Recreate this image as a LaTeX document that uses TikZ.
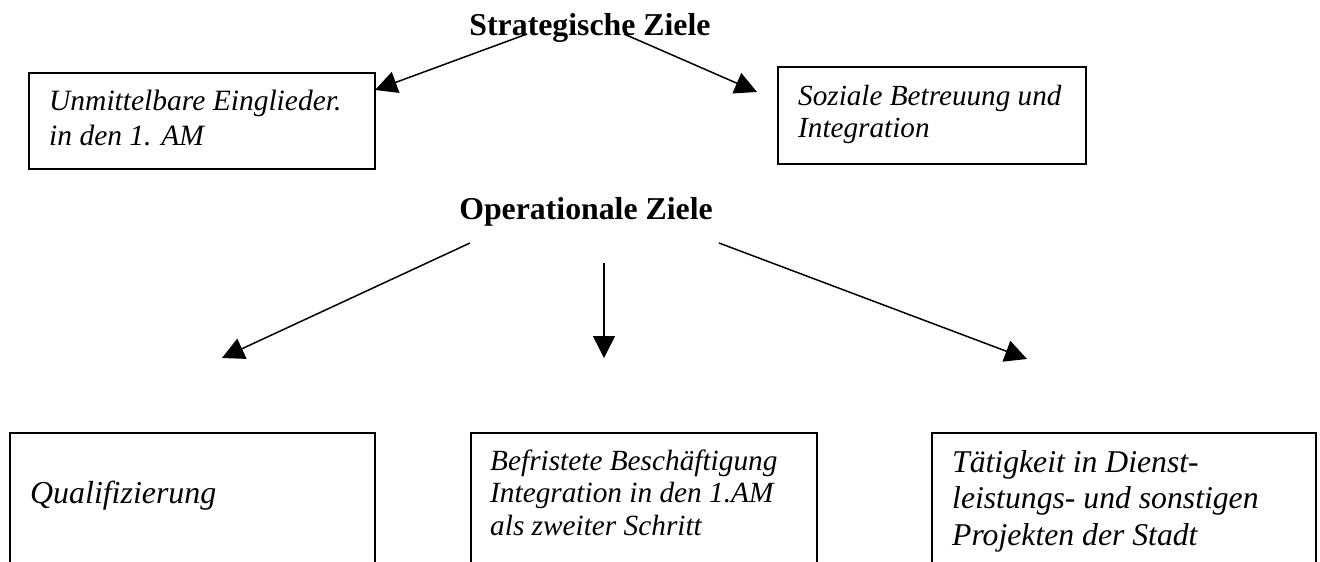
\documentclass[tikz,border=0pt]{standalone}
\usepackage{fontspec}
\setmainfont{Liberation Serif}
\usetikzlibrary{arrows.meta}
\tikzset{
  box/.style={draw, line width=1.8pt, inner sep=0pt, anchor=north west},
  txt/.style={inner sep=0pt, anchor=base west},
  head/.style={inner sep=0pt, anchor=base, font=\bfseries\fontsize{31.8}{36}\selectfont},
  conn/.style={line width=1.5pt, -{Triangle[length=22pt,width=22pt]}}
}
\begin{document}
\begin{tikzpicture}[x=1pt,y=-1pt]
\useasboundingbox (0,0) rectangle (1320,562);
\clip (0,0) rectangle (1320,562);
% headers
\node[head] (strat) at (590,35) {Strategische Ziele};
\node[head] (oper) at (586,219) {Operationale Ziele};
% boxes top
\node[box, minimum width=346pt, minimum height=96pt] (b1) at (28,72) {};
\node[txt] (t1) at (49,110) {\fontsize{29.5}{35}\selectfont\itshape\vtop{\hbox{Unmittelbare Einglieder.}\hbox{in den 1. AM}}};
\node[box, minimum width=308pt, minimum height=97pt] (b2) at (777,66) {};
\node[txt] (t2) at (798,105) {\fontsize{29.2}{32}\selectfont\itshape\vtop{\hbox{Soziale Betreuung und}\hbox{Integration}}};
% boxes bottom
\node[box, minimum width=365pt, minimum height=200pt] (b3) at (9,432) {};
\node[txt] (t3) at (30,503) {\fontsize{31.9}{36}\selectfont\itshape Qualifizierung};
\node[box, minimum width=346pt, minimum height=200pt] (b4) at (470,432) {};
\node[txt] (t4) at (490,470) {\fontsize{29.3}{32.5}\selectfont\itshape\vtop{\hbox{Befristete Besch\"aftigung}\hbox{Integration in den 1.AM}\hbox{als zweiter Schritt}}};
\node[box, minimum width=384pt, minimum height=200pt] (b5) at (931,432) {};
\node[txt] (t5) at (952,472) {\fontsize{31.7}{36.5}\selectfont\itshape\vtop{\hbox{T\"atigkeit in Dienst-}\hbox{leistungs- und sonstigen}\hbox{Projekten der Stadt}}};
% connector end points
\coordinate (s1) at (527,34);
\coordinate (s2) at (624,34);
\coordinate (e1) at (375,90);
\coordinate (e2) at (757,92);
\coordinate (o1) at (470,243);
\coordinate (o2) at (604,263);
\coordinate (o3) at (719,243);
\coordinate (e3) at (222,358);
\coordinate (e4) at (604,358);
\coordinate (e5) at (1027,359);
\draw[conn] (s1) -- (e1);
\draw[conn] (s2) -- (e2);
\draw[conn] (o1) -- (e3);
\draw[conn] (o2) -- (e4);
\draw[conn] (o3) -- (e5);
\end{tikzpicture}
\end{document}
